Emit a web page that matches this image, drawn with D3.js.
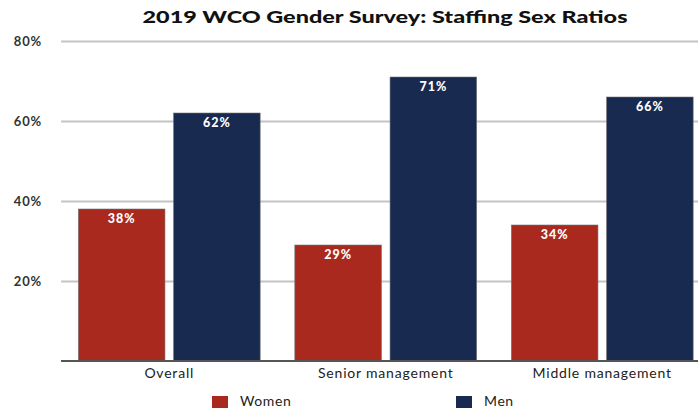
<!DOCTYPE html>
<html lang="en">
<head>
    <meta charset="UTF-8">
    <title>2019 WCO Gender Survey</title>
    <script src="https://cdn.jsdelivr.net/npm/d3@7"></script>
    <style>
        body { margin: 0; background: #fff; }
        svg { display: block; font-family: Lato, "Open Sans", sans-serif; }
        .grid line { stroke: #c4c4c4; stroke-width: 2px; }
    </style>
</head>
<body>
<script>
    const categories = ["Overall", "Senior management", "Middle management"];
    const seriesNames = ["Women", "Men"];
    const women = [38, 29, 34];
    const men = [62, 71, 66];
    const yTicks = [20, 40, 60, 80];
    const colors = ["#a9291f", "#182a50"];

    const width = 698, height = 409;
    const margin = { top: 41, left: 61, bottom: 48 };
    const baseY = height - margin.bottom;

    const data = categories.map((c, i) => ({ cat: c, vals: [women[i], men[i]] }));

    const svg = d3.select("body").append("svg")
        .attr("width", width)
        .attr("height", height);

    // the plot runs past the right edge in the original, so the range is wider than the svg
    const x0 = d3.scaleBand()
        .domain(categories)
        .range([margin.left, margin.left + 3 * 216.5])
        .paddingInner(0.16)
        .paddingOuter(0.08);

    const x1 = d3.scaleBand()
        .domain(seriesNames)
        .range([0, x0.bandwidth()])
        .paddingInner(0.09);

    const y = d3.scaleLinear()
        .domain([0, 80])
        .range([baseY, margin.top]);

    // gridlines
    svg.append("g")
        .attr("class", "grid")
        .attr("transform", `translate(${margin.left},0)`)
        .call(d3.axisLeft(y).tickValues(yTicks).tickSize(-(width - margin.left)).tickFormat(""))
        .call(g => g.select(".domain").remove());

    // y labels
    svg.append("g").selectAll("text")
        .data(yTicks)
        .enter().append("text")
        .attr("x", 42)
        .attr("y", d => y(d) + 5)
        .attr("text-anchor", "end")
        .style("font-size", "13px")
        .style("font-weight", "bold")
        .style("letter-spacing", "0.8px")
        .style("fill", "#333")
        .text(d => d + "%");

    // bars
    const groups = svg.append("g").selectAll("g")
        .data(data)
        .enter().append("g")
        .attr("transform", d => `translate(${x0(d.cat)},0)`);

    groups.selectAll("rect")
        .data(d => d.vals.map((v, i) => ({ name: seriesNames[i], v: v, i: i })))
        .enter().append("rect")
        .attr("x", d => x1(d.name))
        .attr("y", d => y(d.v))
        .attr("width", x1.bandwidth())
        .attr("height", d => baseY - y(d.v))
        .attr("fill", d => colors[d.i])
        .attr("stroke", "#777")
        .attr("stroke-width", 0.6);

    groups.selectAll(".val")
        .data(d => d.vals.map((v, i) => ({ name: seriesNames[i], v: v })))
        .enter().append("text")
        .attr("class", "val")
        .attr("x", d => x1(d.name) + x1.bandwidth() / 2)
        .attr("y", d => y(d.v) + 14)
        .attr("text-anchor", "middle")
        .style("font-size", "12.5px")
        .style("font-weight", "900")
        .style("letter-spacing", "1px")
        .style("fill", "#fff")
        .text(d => d.v + "%");

    // baseline
    svg.append("line")
        .attr("x1", margin.left).attr("x2", width)
        .attr("y1", baseY).attr("y2", baseY)
        .attr("stroke", "#555").attr("stroke-width", 2);

    // x labels
    svg.append("g").selectAll("text")
        .data(categories)
        .enter().append("text")
        .attr("x", d => x0(d) + x0.bandwidth() / 2)
        .attr("y", baseY + 17)
        .attr("text-anchor", "middle")
        .style("font-size", "14px")
        .style("letter-spacing", "0.8px")
        .style("fill", "#222")
        .text(d => d);

    // title
    svg.append("text")
        .attr("x", 385)
        .attr("y", 23)
        .attr("text-anchor", "middle")
        .attr("textLength", 485)
        .attr("lengthAdjust", "spacingAndGlyphs")
        .style("font-size", "16px")
        .style("font-weight", "900")
        .style("fill", "#111")
        .text("2019 WCO Gender Survey: Staffing Sex Ratios");

    // legend
    const legendX = [212, 456];
    seriesNames.forEach((n, i) => {
        svg.append("rect")
            .attr("x", legendX[i]).attr("y", 396)
            .attr("width", 16).attr("height", 12)
            .attr("fill", colors[i]);
        svg.append("text")
            .attr("x", legendX[i] + 28).attr("y", 406)
            .style("font-size", "14px")
            .style("letter-spacing", "0.6px")
            .style("fill", "#222")
            .text(n);
    });
</script>
</body>
</html>
